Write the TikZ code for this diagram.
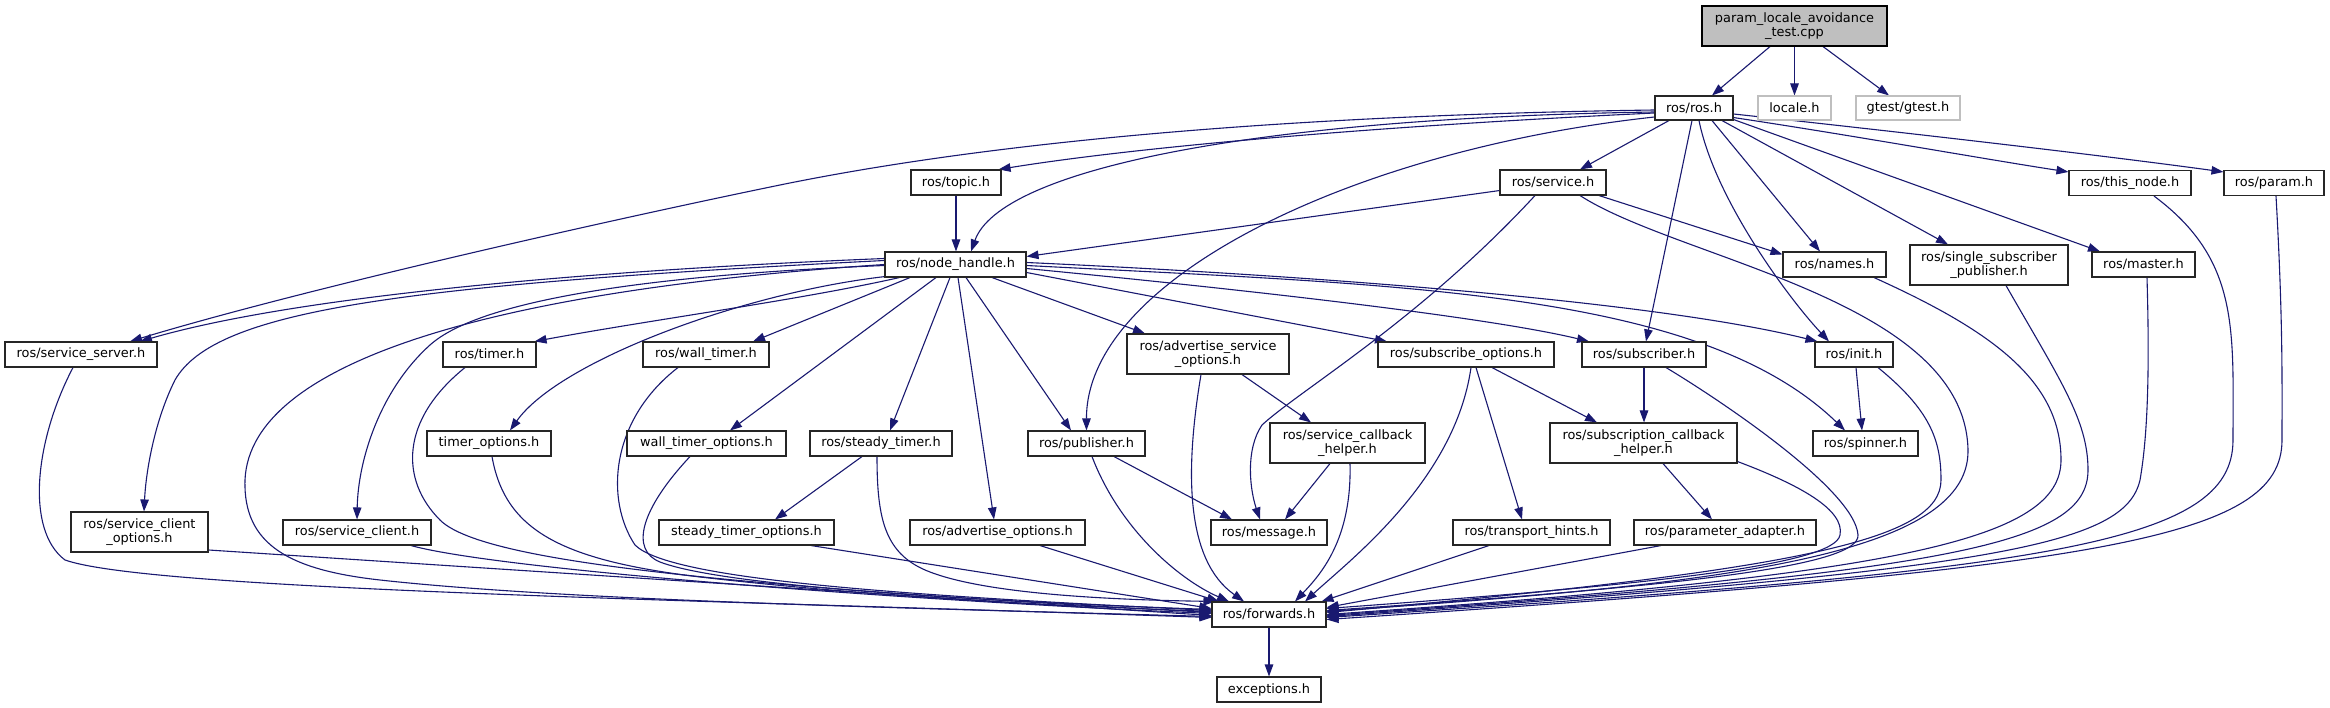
\documentclass[tikz,border=0pt]{standalone}
\usepackage{fontspec}
\setmainfont{DejaVu Sans}
\usetikzlibrary{arrows.meta,calc}
\definecolor{edgec}{HTML}{191970}
\definecolor{grayc}{HTML}{BFBFBF}
\pgfdeclarelayer{bg}
\pgfsetlayers{bg,main}
\begin{document}
\begin{tikzpicture}[x=1pt,y=-1pt,
  box/.style={draw=black!85, line width=1.1pt, fill=white, inner sep=0pt,
    font=\fontsize{12.9}{14.5}\selectfont, align=center, minimum height=25pt},
  dbl/.style={minimum height=40pt},
  edge/.style={draw=edgec, line width=1.1pt, -{Triangle[length=12pt,width=8.5pt]}}]
\useasboundingbox (0,0) rectangle (2330,708);
% nodes
\node[box,dbl,minimum width=185pt,fill=grayc,draw=black] (root) at (1794.5,26) {param\_locale\_avoidance\\\_test.cpp};
\node[box,minimum width=78pt,minimum height=24pt] (rosh) at (1694,108) {ros/ros.h};
\node[box,draw=grayc,minimum width=73pt,minimum height=24pt] (locale) at (1794.5,108) {locale.h};
\node[box,draw=grayc,minimum width=104pt,minimum height=24pt] (gtest) at (1908,108) {gtest/gtest.h};
\node[box,minimum width=90pt] (topic) at (956,182.5) {ros/topic.h};
\node[box,minimum width=106pt] (service) at (1553,182.5) {ros/service.h};
\node[box,minimum width=122pt] (thisnode) at (2130,183) {ros/this\_node.h};
\node[box,minimum width=100pt] (param) at (2274,183) {ros/param.h};
\node[box,minimum width=141pt] (nh) at (955.5,264.5) {ros/node\_handle.h};
\node[box,minimum width=103pt] (names) at (1834.5,264.5) {ros/names.h};
\node[box,dbl,minimum width=158pt] (ssp) at (1989,265) {ros/single\_subscriber\\\_publisher.h};
\node[box,minimum width=103pt] (master) at (2143.5,264.5) {ros/master.h};
\node[box,minimum width=152pt] (sserver) at (81,354.5) {ros/service\_server.h};
\node[box,minimum width=93pt] (timer) at (489.5,354.5) {ros/timer.h};
\node[box,minimum width=126pt] (walltimer) at (706,354.5) {ros/wall\_timer.h};
\node[box,dbl,minimum width=162pt] (aso) at (1208,354) {ros/advertise\_service\\\_options.h};
\node[box,minimum width=176pt] (subopt) at (1466,354.5) {ros/subscribe\_options.h};
\node[box,minimum width=124pt] (subscriber) at (1644,354.5) {ros/subscriber.h};
\node[box,minimum width=78pt] (init) at (1854,354.5) {ros/init.h};
\node[box,minimum width=124pt] (timeropt) at (489,443.5) {timer\_options.h};
\node[box,minimum width=159pt] (walltimeropt) at (706.5,443.5) {wall\_timer\_options.h};
\node[box,minimum width=142pt] (steadytimer) at (881,443.5) {ros/steady\_timer.h};
\node[box,minimum width=117pt] (publisher) at (1086.5,443.5) {ros/publisher.h};
\node[box,dbl,minimum width=155pt] (scbh) at (1347.5,443) {ros/service\_callback\\\_helper.h};
\node[box,dbl,minimum width=187pt] (subcbh) at (1643.5,443) {ros/subscription\_callback\\\_helper.h};
\node[box,minimum width=105pt] (spinner) at (1865.5,443.5) {ros/spinner.h};
\node[box,dbl,minimum width=137pt] (sco) at (139.5,532) {ros/service\_client\\\_options.h};
\node[box,minimum width=148pt] (sclient) at (357,532.5) {ros/service\_client.h};
\node[box,minimum width=175pt] (steadyopt) at (746.5,532.5) {steady\_timer\_options.h};
\node[box,minimum width=175pt] (advopt) at (997.5,532.5) {ros/advertise\_options.h};
\node[box,minimum width=116pt] (message) at (1269,532.5) {ros/message.h};
\node[box,minimum width=157pt] (transport) at (1531.5,532.5) {ros/transport\_hints.h};
\node[box,minimum width=182pt] (paramad) at (1725,532.5) {ros/parameter\_adapter.h};
\node[box,minimum width=114pt] (forwards) at (1269,614.5) {ros/forwards.h};
\node[box,minimum width=104pt] (exceptions) at (1269,689.5) {exceptions.h};
\begin{pgfonlayer}{bg}
\fill[white] (0,0) rectangle (2330,708);
% root
\draw[edge] ($(root.south)+(-24.5,0)$) -- ($(rosh.north)+(18,0)$);
\draw[edge] (root.south) -- (locale.north);
\draw[edge] ($(root.south)+(28.5,0)$) -- ($(gtest.north)+(-19,0)$);
% ros.h
\draw[edge] ($(rosh.south)+(-25,0)$) -- ($(service.north)+(27,0)$);
\draw[edge] ($(rosh.south east)+(0,-3)$) .. controls (1850,135) and (1990,160) .. ($(thisnode.north west)+(0,2)$);
\draw[edge] ($(rosh.east)+(0,6)$) .. controls (1900,132) and (2100,155) .. ($(param.north west)+(0,2)$);
\draw[edge] ($(rosh.south)+(-2,0)$) -- ($(subscriber.north)+(2,0)$);
\draw[edge] ($(rosh.south)+(18,0)$) -- ($(names.north)+(-14.5,0)$);
\draw[edge] ($(rosh.south)+(5,0)$) .. controls (1715,200) and (1790,300) .. ($(init.north)+(-25,0)$);
\draw[edge] ($(rosh.south)+(28,0)$) -- ($(ssp.north)+(-41,0)$);
\draw[edge] ($(rosh.south east)+(0,-1)$) -- ($(master.north)+(-43.5,0)$);
\draw[edge] ($(rosh.west)+(0,2)$) .. controls (1300,115) and (1000,140) .. (780,185) .. controls (600,222) and (300,290) .. ($(sserver.north)+(49,0)$);
\draw[edge] ($(rosh.west)+(0,5)$) .. controls (1400,125) and (1150,145) .. ($(topic.north east)+(-3,0)$);
\draw[edge] ($(rosh.west)+(0,4)$) .. controls (1250,118) and (1000,170) .. ($(nh.north)+(15.5,0)$);
\draw[edge] ($(rosh.west)+(0,9)$) .. controls (1350,150) and (1086,280) .. (publisher.north);
% topic, service
\draw[edge] (topic.south) -- (topic.south |- nh.north);
\draw[edge] ($(service.south west)+(0,-5)$) -- ($(nh.east)+(0,-8)$);
\draw[edge] ($(service.south)+(-18,0)$) .. controls (1420,320) and (1300,390) .. (1262,425) .. controls (1245,450) and (1250,490) .. ($(message.north)+(-9,0)$);
\draw[edge] ($(service.south)+(46,0)$) -- ($(names.north west)+(0,3)$);
\draw[edge] ($(service.south)+(27,0)$) .. controls (1680,260) and (1965,300) .. (1968,450) .. controls (1970,560) and (1700,585) .. ($(forwards.east)+(0,-3)$);
% right side into forwards
\draw[edge] ($(thisnode.south)+(24,0)$) .. controls (2240,260) and (2233,330) .. (2233,440) .. controls (2233,545) and (2050,570) .. ($(forwards.east)+(0,3)$);
\draw[edge] ($(param.south)+(2,0)$) .. controls (2283,320) and (2282,380) .. (2282,440) .. controls (2282,540) and (2100,568) .. ($(forwards.east)+(0,5)$);
\draw[edge] ($(names.south)+(39.5,0)$) .. controls (1990,330) and (2061,380) .. (2061,460) .. controls (2061,540) and (1900,575) .. (forwards.east);
\draw[edge] ($(ssp.south)+(17,0)$) .. controls (2060,380) and (2088,420) .. (2088,470) .. controls (2088,545) and (1950,572) .. ($(forwards.east)+(0,1)$);
\draw[edge] ($(master.south)+(3.5,0)$) .. controls (2150,380) and (2147,440) .. (2140,480) .. controls (2125,545) and (2000,570) .. ($(forwards.east)+(0,2)$);
\draw[edge] ($(init.south)+(24,0)$) .. controls (1930,410) and (1941,440) .. (1941,480) .. controls (1941,540) and (1800,570) .. ($(forwards.east)+(0,-2)$);
\draw[edge] ($(subscriber.south)+(22,0)$) .. controls (1720,400) and (1855,490) .. (1858,535) .. controls (1860,565) and (1700,585) .. ($(forwards.east)+(0,-4)$);
\draw[edge] ($(subcbh.south east)+(0,-2)$) .. controls (1800,485) and (1845,510) .. (1840,535) .. controls (1835,565) and (1650,585) .. ($(forwards.east)+(0,-6)$);
\draw[edge] ($(subcbh.south)+(19.5,0)$) -- ($(paramad.north)+(-13,0)$);
\draw[edge] (subscriber.south) -- (subscriber.south |- subcbh.north);
\draw[edge] ($(init.south)+(2,0)$) -- ($(spinner.north)+(-3.5,0)$);
\draw[edge] ($(paramad.south)+(-64,0)$) -- ($(forwards.east)+(0,-7)$);
\draw[edge] ($(transport.south)+(-42.5,0)$) -- ($(forwards.north east)+(-5,0)$);
\draw[edge] ($(subopt.south)+(5,0)$) .. controls (1455,480) and (1350,560) .. ($(forwards.north)+(36,0)$);
\draw[edge] ($(subopt.south)+(10,0)$) -- ($(transport.north)+(-9.5,0)$);
\draw[edge] ($(subopt.south)+(26,0)$) -- ($(subcbh.north)+(-46.5,0)$);
\draw[edge] ($(scbh.south)+(-17.5,0)$) -- ($(message.north)+(16,0)$);
\draw[edge] ($(scbh.south)+(2.5,0)$) .. controls (1352,540) and (1320,575) .. ($(forwards.north)+(26,0)$);
\draw[edge] ($(aso.south)+(34,0)$) -- ($(scbh.north)+(-36.5,0)$);
\draw[edge] ($(aso.south)+(-7,0)$) .. controls (1185,470) and (1185,560) .. ($(forwards.north)+(-25,0)$);
\draw[edge] ($(publisher.south)+(27.5,0)$) -- ($(message.north)+(-37,0)$);
\draw[edge] ($(publisher.south)+(5.5,0)$) .. controls (1120,530) and (1180,580) .. ($(forwards.north)+(-40,0)$);
\draw[edge] ($(advopt.south)+(42.5,0)$) -- ($(forwards.north)+(-50,0)$);
\draw[edge] ($(steadytimer.south)+(-4,0)$) .. controls (877,520) and (885,555) .. (930,572) .. controls (990,595) and (1120,600) .. ($(forwards.north west)+(4,0)$);
\draw[edge] ($(steadytimer.south)+(-19,0)$) -- ($(steadyopt.north)+(28.5,0)$);
\draw[edge] ($(steadyopt.south)+(64.5,0)$) -- ($(forwards.west)+(0,-6)$);
\draw[edge] (forwards.south) -- (exceptions.north);
% left side into forwards
\draw[edge] ($(sserver.south)+(-8,0)$) .. controls (35,440) and (25,530) .. (65,560) .. controls (150,590) and (700,600) .. ($(forwards.west)+(0,3)$);
\draw[edge] ($(sco.east)+(0,18)$) -- ($(forwards.west)+(0,1)$);
\draw[edge] (nh.west) .. controls (500,290) and (250,360) .. (245,480) .. controls (243,545) and (290,570) .. (380,580) .. controls (560,600) and (900,608) .. ($(forwards.west)+(0,2)$);
\draw[edge] ($(sclient.south)+(54,0)$) .. controls (500,570) and (900,600) .. ($(forwards.west)+(0,-1)$);
\draw[edge] ($(timer.south)+(-24.5,0)$) .. controls (400,420) and (400,480) .. (440,520) .. controls (480,560) and (700,585) .. ($(forwards.west)+(0,-2)$);
\draw[edge] ($(timeropt.south)+(3,0)$) .. controls (505,530) and (560,560) .. (700,577) .. controls (900,600) and (1100,607) .. ($(forwards.west)+(0,-3)$);
\draw[edge] ($(walltimer.south)+(-28,0)$) .. controls (610,420) and (605,500) .. (635,545) .. controls (670,580) and (900,595) .. ($(forwards.west)+(0,-4)$);
\draw[edge] ($(walltimeropt.south)+(-16.5,0)$) .. controls (640,510) and (630,550) .. (660,562) .. controls (720,585) and (950,600) .. ($(forwards.west)+(0,-5)$);
% node_handle outgoing
\draw[edge] ($(nh.west)+(0,-6)$) .. controls (600,270) and (300,295) .. ($(sserver.north)+(59,0)$);
\draw[edge] ($(nh.west)+(0,-4)$) .. controls (400,285) and (215,310) .. (175,380) .. controls (155,420) and (146,470) .. ($(sco.north)+(4.5,0)$);
\draw[edge] ($(nh.west)+(0,1)$) .. controls (650,275) and (480,300) .. (430,345) .. controls (380,390) and (358,460) .. (sclient.north);
\draw[edge] ($(nh.south west)+(15,0)$) .. controls (800,300) and (650,320) .. ($(timer.north east)+(-2,0)$);
\draw[edge] ($(nh.south west)+(10,-2)$) .. controls (750,290) and (560,360) .. ($(timeropt.north)+(21,0)$);
\draw[edge] ($(nh.south)+(-45.5,0)$) -- ($(walltimer.north)+(47,0)$);
\draw[edge] ($(nh.south)+(-19.5,0)$) -- ($(walltimeropt.north)+(23.5,0)$);
\draw[edge] ($(nh.south)+(-5.5,0)$) -- ($(steadytimer.north)+(9,0)$);
\draw[edge] ($(nh.south)+(2.5,0)$) -- ($(advopt.north)+(-3.5,0)$);
\draw[edge] ($(nh.south)+(10.5,0)$) -- ($(publisher.north)+(-15.5,0)$);
\draw[edge] ($(nh.south)+(36.5,0)$) -- ($(aso.north)+(-63,0)$);
\draw[edge] ($(nh.east)+(0,8)$) -- ($(subopt.north)+(-79,0)$);
\draw[edge] ($(nh.east)+(0,4)$) .. controls (1300,295) and (1500,320) .. ($(subscriber.north)+(-55,0)$);
\draw[edge] ($(nh.east)+(0,-2)$) .. controls (1300,275) and (1650,300) .. ($(init.north west)+(3,0)$);
\draw[edge] ($(nh.east)+(0,1)$) .. controls (1400,285) and (1700,290) .. ($(spinner.north)+(-20.5,0)$);
\end{pgfonlayer}
\end{tikzpicture}
\end{document}
